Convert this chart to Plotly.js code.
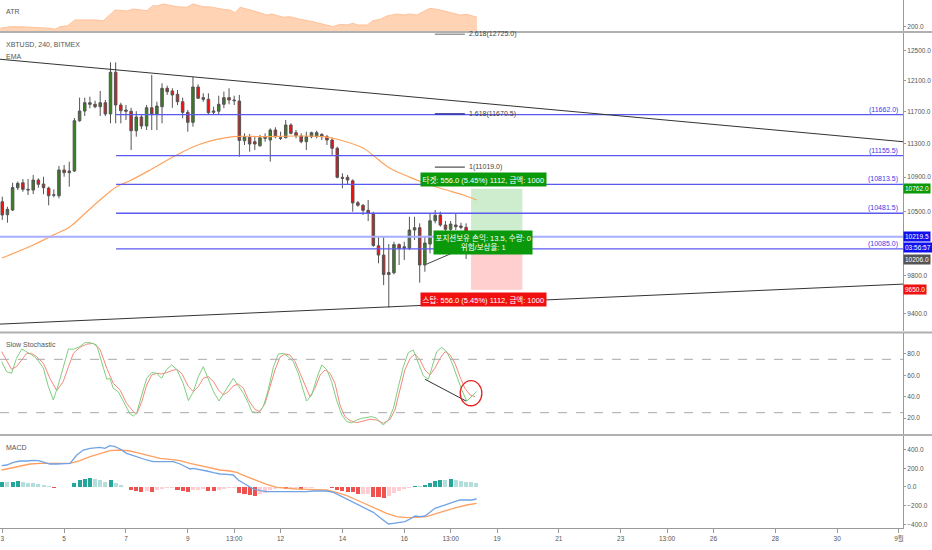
<!DOCTYPE html>
<html><head><meta charset="utf-8">
<script src="https://cdn.plot.ly/plotly-3.0.1.min.js"></script>
<style>html,body{margin:0;padding:0;background:#fff}#chart{width:932px;height:550px}</style>
</head><body><div id="chart"></div>
<script>
// ---------- DATA (XBTUSD 240, BITMEX, August) ----------
const candleStartDay = 3;      // Aug 3, first visible 4h bar
const barsPerDay = 6;
const candleOpen = [10613,10465,10518,10775,10833,10756,10748,10865,10818,10771,10688,10682,10984,10952,10972,11585,11707,11813,11793,11762,11813,11670,12209,11784,11720,11705,11460,11632,11519,11749,11666,11762,11999,11964,11922,11826,11691,11565,12016,11878,11857,11691,11705,11793,11878,11848,11835,11337,11379,11325,11276,11366,11346,11469,11374,11374,11532,11436,11395,11325,11387,11387,11416,11387,11346,11245,10897,10897,10857,10602,10572,10515,10479,10119,10018,9809,9828,10132,10090,10090,10293,10319,9911,10138,10397,10462,10349,10301,10349,10338,10323];
const candleHigh = [10671,10556,10833,10847,10877,10877,10925,10885,10904,10787,10756,11032,11044,11083,11619,11878,11878,11891,11839,11964,11848,12341,12341,11813,11784,11749,11705,11657,11784,12173,11826,12064,12033,11999,11977,11878,11720,12147,12051,11934,11934,11762,11903,11955,11999,11903,11913,11428,11420,11387,11408,11428,11490,11503,11448,11594,11553,11469,11428,11448,11448,11460,11428,11408,11374,11264,10945,10925,10873,10621,10587,10633,10499,10219,10219,10138,10163,10145,10163,10442,10442,10368,10219,10481,10518,10499,10394,10394,10473,10375,10368];
const candleLow = [10405,10375,10507,10748,10728,10690,10702,10775,10699,10572,10664,10653,10904,10787,10960,11573,11644,11742,11742,11644,11644,11553,11553,11553,11594,11224,11387,11482,11469,11469,11469,11553,11913,11749,11784,11615,11448,11510,11861,11826,11666,11666,11666,11742,11793,11784,11143,11285,11203,11224,11264,11325,11083,11367,11346,11367,11416,11367,11306,11224,11367,11367,11346,11285,11164,10885,10768,10807,10499,10556,10462,10394,10108,9929,9698,9465,9811,9911,9964,10072,10182,9723,9839,10036,10368,10330,10256,10274,10293,10301,9975];
const candleClose = [10462,10526,10777,10826,10756,10750,10865,10815,10775,10682,10692,10984,10952,10972,11585,11707,11813,11793,11762,11813,11670,12209,11784,11711,11705,11460,11632,11519,11749,11666,11771,11999,11955,11913,11826,11691,11565,12016,11870,11857,11686,11707,11793,11878,11848,11839,11340,11387,11297,11297,11374,11387,11469,11387,11367,11532,11428,11399,11325,11387,11436,11436,11387,11346,11245,10897,10885,10865,10599,10572,10515,10484,10122,10018,9809,9830,10132,10088,10108,10293,10319,9911,10149,10397,10458,10349,10301,10360,10330,10323,10274];

const emaDay = [2.99,4.00,4.54,5.19,5.62,6.16,6.70,7.13,7.78,8.64,9.39,10.47,11.44,12.52,13.38,13.92,14.68,15.11,15.54,16.19,16.83,17.37,17.91,18.34];
const emaValue = [9986,10127,10219,10330,10462,10633,10787,10857,10984,11164,11294,11387,11387,11395,11387,11346,11245,11124,11004,10897,10807,10748,10690,10633];

const atrDay = [2.93,3.25,3.57,3.99,4.54,4.70,4.87,5.12,5.35,6.06,6.26,6.65,7.03,7.23,7.68,7.87,8.00,8.20,8.42,8.65,8.97,9.17,9.49,9.72,10.14,10.36,10.53,10.69,11.11,11.56,11.72,12.08,12.30,12.63,13.05,13.50,13.70,13.92,14.15,14.34,14.50,14.80,14.99,15.22,15.44,15.77,15.96,16.19,16.41,16.61,16.83,17.16,17.48,17.80,18.03,18.22,18.35];
const atrValue = [186,200,200,195,186,177,200,209,259,259,250,347,338,356,341,385,382,400,389,376,371,400,376,374,353,347,323,371,341,303,312,283,288,265,244,209,200,221,215,230,215,215,253,265,294,312,303,312,303,332,362,347,323,303,309,297,283];

const stochKDay = [2.98,3.14,3.30,3.46,3.63,3.79,3.95,4.11,4.33,4.49,4.65,4.81,4.97,5.14,5.30,5.51,5.67,5.84,6.05,6.21,6.38,6.48,6.59,6.75,6.91,7.13,7.24,7.35,7.51,7.67,7.83,7.99,8.15,8.32,8.48,8.64,8.85,9.02,9.18,9.34,9.50,9.66,9.83,10.01,10.15,10.31,10.47,10.63,10.80,10.96,11.07,11.28,11.44,11.60,11.77,11.93,12.09,12.25,12.41,12.57,12.74,12.84,13.01,13.17,13.33,13.49,13.65,13.81,13.98,14.14,14.30,14.46,14.62,14.78,14.95,15.11,15.32,15.49,15.65,15.81,15.97,16.13,16.29,16.46,16.62,16.78,16.94,17.05,17.21,17.37,17.53,17.70,17.86,18.02,18.18,18.34];
const stochK = [72.8,63.4,61.9,75.9,84.7,82.2,79.1,75.9,66.6,49.4,36.9,50.9,68.1,84.7,84.4,86.9,90.6,90.6,88.4,72.8,56.3,57.2,47.8,44.7,35.3,23.8,21.9,25.0,41.6,57.2,62.5,61.9,57.2,65.6,69.7,65.6,52.5,36.3,44.7,58.8,68.1,56.3,44.7,35.9,43.1,50.0,57.2,50.9,43.1,33.8,25.9,25.0,30.6,46.3,68.1,80.0,80.6,77.5,72.8,61.9,44.7,35.9,41.6,57.2,69.7,65.6,54.1,36.9,22.8,16.6,15.6,18.1,19.7,20.6,21.3,19.7,13.4,18.1,29.1,49.4,68.1,81.3,83.8,71.3,59.4,56.3,71.3,82.2,86.3,82.2,72.8,58.8,46.3,35.9,40.6,44.7];
const stochDDay = [2.98,3.14,3.30,3.46,3.63,3.79,3.95,4.11,4.33,4.54,4.76,4.97,5.14,5.30,5.51,5.73,5.94,6.16,6.38,6.59,6.81,7.02,7.24,7.35,7.51,7.67,7.83,7.99,8.15,8.32,8.48,8.64,8.80,9.02,9.18,9.34,9.50,9.66,9.83,9.99,10.15,10.31,10.47,10.63,10.80,10.96,11.17,11.33,11.50,11.66,11.82,11.98,12.14,12.30,12.47,12.63,12.79,12.95,13.11,13.28,13.44,13.60,13.76,13.92,14.08,14.25,14.46,14.68,14.89,15.11,15.32,15.54,15.70,15.86,16.02,16.19,16.35,16.51,16.67,16.83,16.99,17.16,17.32,17.48,17.64,17.80,17.96,18.13,18.29];
const stochD = [82.2,74.4,65.6,68.1,74.4,80.6,80.6,77.5,71.3,57.2,45.6,54.1,68.1,80.6,86.3,89.1,90.0,84.4,66.6,52.5,46.3,33.8,25.9,23.8,35.3,50.9,60.3,61.9,61.3,62.5,64.4,65.6,61.9,49.4,44.7,49.4,57.2,58.8,54.1,46.3,41.6,44.7,50.0,51.9,47.8,36.9,28.1,25.9,33.8,49.4,65.0,76.9,80.0,79.1,72.8,61.9,50.9,40.0,47.8,60.3,65.0,61.9,52.5,32.2,21.3,17.5,15.6,17.5,18.8,18.1,15.0,18.8,27.5,46.3,65.0,75.9,80.0,74.4,65.0,60.3,66.6,75.9,82.2,79.1,71.3,58.8,47.8,41.6,40.0];
const stochBands = [75, 25];

const macdDay = [2.98,3.14,3.36,3.57,3.79,4.00,4.17,4.33,4.54,4.76,4.97,5.19,5.41,5.62,5.84,6.05,6.16,6.32,6.48,6.65,6.81,7.02,7.24,7.45,7.67,7.88,8.10,8.32,8.53,8.75,8.91,9.07,9.18,9.39,9.61,9.83,10.04,10.26,10.47,10.63,10.80,10.96,11.12,11.34,11.55,11.77,11.98,12.20,12.41,12.63,12.84,13.06,13.28,13.49,13.71,13.92,14.14,14.35,14.57,14.78,15.00,15.22,15.49,15.65,15.86,16.02,16.19,16.35,16.51,16.67,16.83,16.99,17.16,17.37,17.59,17.80,18.02,18.18,18.34];
const macdLine = [227.5,234.7,263.1,277.3,277.3,284.4,280.9,263.1,245.3,245.3,245.3,252.4,341.3,394.7,412.5,423.1,423.1,412.5,440.9,430.2,405.4,359.1,334.2,305.8,288.0,270.2,270.2,270.2,270.2,245.3,216.9,192.0,199.1,188.4,170.7,152.9,138.7,135.1,128.0,74.6,39.1,3.6,-21.4,-39.2,-49.8,-49.8,-49.8,-49.8,-49.8,-57.0,-49.8,-42.7,-42.7,-42.7,-57.0,-92.5,-128.0,-156.5,-199.2,-234.7,-270.3,-327.2,-394.8,-387.6,-380.5,-369.9,-341.4,-309.4,-316.5,-309.4,-270.3,-227.6,-209.8,-184.9,-156.5,-138.7,-138.7,-138.7,-128.0];
const signalDay = [2.98,3.25,3.57,3.90,4.22,4.54,4.87,5.19,5.51,5.84,6.16,6.48,6.81,7.13,7.45,7.78,8.10,8.42,8.75,9.07,9.39,9.72,10.04,10.36,10.58,10.90,11.23,11.55,11.88,12.20,12.52,12.84,13.17,13.49,13.81,14.14,14.46,14.78,15.11,15.43,15.76,16.08,16.40,16.73,17.05,17.37,17.70,18.02,18.34];
const signalLine = [181.3,199.1,227.5,245.3,252.4,256.0,252.4,252.4,280.9,323.6,359.1,387.6,394.7,384.0,359.1,334.2,305.8,295.1,280.9,252.4,227.5,206.2,181.3,170.7,156.5,110.2,67.5,28.4,-3.6,-14.3,-21.4,-24.9,-32.0,-32.0,-57.0,-92.5,-138.7,-184.9,-234.7,-281.0,-316.5,-327.2,-323.6,-316.5,-281.0,-245.4,-217.0,-192.1,-174.3];
const macdHist = [57,50,57,60,50,43,39,28,21,7,-14,-3,-1,2,46,71,85,92,85,75,57,71,39,18,-4,-32,-43,-57,-43,-50,-32,-21,-14,-11,-32,-43,-50,-36,-28,-25,-39,-43,-32,-21,-14,-11,-60,-78,-89,-92,-78,-60,-32,-21,-14,-21,-14,-7,-18,-7,-6,-5,-3,-5,-7,-32,-43,-50,-57,-78,-75,-71,-103,-110,-114,-92,-68,-43,-25,-7,14,7,21,46,68,78,77,82,71,64,53,50,43];

// drawings
const fibLevels = [11662.0, 11155.5, 10813.5, 10481.5, 10085.0];
const fibStartDay = 6.68;
const extLevels = [12725.0, 11670.5, 11019.0];
const extRatios = ['2.618', '1.618', '1'];
const extDays = [16.99, 17.96];
const upperTrendDay = [2.926, 32.13], upperTrendPrice = [12382, 11325];
const lowerTrendDay = [2.926, 32.13], lowerTrendPrice = [9297, 9708];
const shortTrendDay = [16.73, 17.53], shortTrendPrice = [9921, 10036];
const stochTrendDay = [16.67, 18.00], stochTrendValue = [56.3, 35.9];
const lastPrice = 10219.5, countdown = '03:56:57';
const entryPrice = 10206.0, targetPrice = 10762.0, stopPrice = 9650.0;
const positionDays = [18.16, 19.82];
const positionText = {
  target: '타겟: 556.0 (5.45%) 1112, 금액: 1000',
  mid: '포지션보유 손익: 13.5, 수량: 0<br>위험/보상율: 1',
  stop: '스탑: 556.0 (5.45%) 1112, 금액: 1000'
};
const priceTicks = [12500, 12100, 11700, 11300, 10900, 10500, 9800, 9400];
const stochTicks = [20, 40, 60, 80];
const macdTicks = [-400, -200, 0, 200, 400];
const atrTicks = [200];
const xTickDays = [3,5,7,9,10.5,12,14,16,17.5,19,21,23,24.5,26,28,30,32];
const xTickText = ['3','5','7','9','13:00','12','14','16','13:00','19','21','23','13:00','26','28','30','9월'];

// ---------- CHART ----------
const F = 'Liberation Sans, Noto Sans CJK KR, sans-serif';
const candleDay = candleOpen.map((_, i) => candleStartDay + i / barsPerDay);
const histDay = macdHist.map((_, i) => candleStartDay + i / barsPerDay);
const histColor = macdHist.map((v, i) => {
  const p = i > 0 ? macdHist[i - 1] : v;
  if (v >= 0) return v >= p ? '#26a69a' : '#b2dfdb';
  return v < p ? '#ef5350' : '#ffcdd2';
});
const X0 = 2.926, X1 = 32.13;

const traces = [];
traces.push({type:'scatter', mode:'lines', x:atrDay, y:atrValue, yaxis:'y4', fill:'tozeroy', fillcolor:'#ffd3b3', line:{color:'#ffc29a', width:1}});
traces.push({type:'scatter', mode:'lines', x:[positionDays[0],positionDays[1],positionDays[1],positionDays[0],positionDays[0]], y:[entryPrice,entryPrice,targetPrice,targetPrice,entryPrice], fill:'toself', fillcolor:'rgba(60,180,60,0.25)', line:{width:0}});
traces.push({type:'scatter', mode:'lines', x:[positionDays[0],positionDays[1],positionDays[1],positionDays[0],positionDays[0]], y:[entryPrice,entryPrice,stopPrice,stopPrice,entryPrice], fill:'toself', fillcolor:'rgba(255,80,80,0.28)', line:{width:0}});
traces.push({type:'scatter', mode:'lines', x:emaDay, y:emaValue, line:{color:'#ffa35c', width:1.2, shape:'spline'}});
traces.push({type:'candlestick', x:candleDay, open:candleOpen, high:candleHigh, low:candleLow, close:candleClose,
  increasing:{fillcolor:'#3a7d22', line:{color:'#555', width:1}},
  decreasing:{fillcolor:'#f01010', line:{color:'#555', width:1}}, whiskerwidth:0});
traces.push({type:'scatter', mode:'lines', x:[X0, X1], y:[lastPrice, lastPrice], line:{color:'#a9adff', width:2}});
fibLevels.forEach(p => traces.push({type:'scatter', mode:'lines', x:[fibStartDay, X1], y:[p, p], line:{color:'#5a5af2', width:1.3}}));
const extColors = ['#777', '#1c1c8c', '#555'];
extLevels.forEach((p, i) => traces.push({type:'scatter', mode:'lines', x:extDays, y:[p, p], line:{color:extColors[i], width:1.3}}));
traces.push({type:'scatter', mode:'lines', x:upperTrendDay, y:upperTrendPrice, line:{color:'#333', width:1}});
traces.push({type:'scatter', mode:'lines', x:lowerTrendDay, y:lowerTrendPrice, line:{color:'#333', width:1}});
traces.push({type:'scatter', mode:'lines', x:shortTrendDay, y:shortTrendPrice, line:{color:'#444', width:1}});
traces.push({type:'scatter', mode:'lines', x:stochDDay, y:stochD, yaxis:'y2', line:{color:'#f4877c', width:1}});
traces.push({type:'scatter', mode:'lines', x:stochKDay, y:stochK, yaxis:'y2', line:{color:'#7fce7f', width:1}});
traces.push({type:'scatter', mode:'lines', x:stochTrendDay, y:stochTrendValue, yaxis:'y2', line:{color:'#333', width:1}});
traces.push({type:'bar', x:histDay, y:macdHist, yaxis:'y3', width:0.13, marker:{color:histColor, line:{width:0}}});
traces.push({type:'scatter', mode:'lines', x:signalDay, y:signalLine, yaxis:'y3', line:{color:'#ffa060', width:1.3}});
traces.push({type:'scatter', mode:'lines', x:macdDay, y:macdLine, yaxis:'y3', line:{color:'#6fa3e6', width:1.3}});

const tickFont = {family:F, size:6.5, color:'#555'};
const yBase = {side:'right', showgrid:false, zeroline:false, showline:true, linecolor:'#999', linewidth:1,
  ticks:'outside', ticklen:2, tickcolor:'#999', tickfont:tickFont, tickformat:'.1f', fixedrange:true, anchor:'x'};

const annotations = [];
const lbl = (txt, ypx) => ({xref:'paper', yref:'paper', x:0.004, y:(528 - ypx) / 528, xanchor:'left', yanchor:'middle', text:txt, showarrow:false, font:{family:F, size:7, color:'#555'}});
annotations.push(lbl('ATR', 12), lbl('XBTUSD, 240, BITMEX', 44), lbl('EMA', 56), lbl('Slow Stochastic', 344), lbl('MACD', 447));
fibLevels.forEach(p => annotations.push({xref:'paper', x:0.997, xanchor:'right', yref:'y', y:Math.log10(p), yanchor:'bottom', text:'(' + p.toFixed(1) + ')', showarrow:false, font:{family:F, size:7, color:'#3a3ae8'}, yshift:-1}));
extLevels.forEach((p, i) => annotations.push({xref:'x', x:extDays[1] + 0.08, xanchor:'left', yref:'y', y:Math.log10(p), yanchor:'middle', text:extRatios[i] + '(' + p.toFixed(1) + ')', showarrow:false, font:{family:F, size:7, color:'#444'}}));
const tag = (p, text, bg, shift) => ({xref:'paper', x:1.0005, xanchor:'left', yref:'y', y:Math.log10(p), yanchor:'middle', text:text, showarrow:false, bgcolor:bg, borderpad:1, font:{family:F, size:6.5, color:'#fff'}, yshift:shift || 0});
annotations.push(tag(targetPrice, targetPrice.toFixed(1), '#0a990a'));
annotations.push(tag(lastPrice, lastPrice.toFixed(1), '#1010ee'));
annotations.push(tag(lastPrice, countdown, '#1010ee', -11));
annotations.push(tag(entryPrice, entryPrice.toFixed(1), '#555', -22));
annotations.push(tag(stopPrice, stopPrice.toFixed(1), '#f01010'));
const midDay = (positionDays[0] + positionDays[1]) / 2 - 0.44;
annotations.push({xref:'x', x:midDay, xanchor:'center', yref:'y', y:Math.log10(targetPrice), yanchor:'bottom', yshift:2, text:positionText.target, showarrow:false, bgcolor:'#0a990a', borderpad:1.5, font:{family:F, size:7.5, color:'#fff'}});
annotations.push({xref:'x', x:midDay, xanchor:'center', yref:'y', y:Math.log10(entryPrice), yanchor:'middle', yshift:-5, text:positionText.mid, showarrow:false, bgcolor:'#0a990a', borderpad:1.5, font:{family:F, size:7.5, color:'#fff'}});
annotations.push({xref:'x', x:midDay, xanchor:'center', yref:'y', y:Math.log10(stopPrice), yanchor:'top', yshift:-2, text:positionText.stop, showarrow:false, bgcolor:'#f01010', borderpad:1.5, font:{family:F, size:7.5, color:'#fff'}});

const shapes = [];
[32, 332.5, 435].forEach(py => shapes.push({type:'line', xref:'paper', yref:'paper', x0:0, x1:932 / 903, y0:(528 - py) / 528, y1:(528 - py) / 528, line:{color:'#b0b0b0', width:2}}));
stochBands.forEach(v => shapes.push({type:'line', xref:'paper', yref:'y2', x0:0, x1:1, y0:v, y1:v, line:{color:'#aaa', width:1, dash:'dash'}}));
shapes.push({type:'circle', xref:'x', yref:'y2', x0:17.81, x1:18.51, y0:31.5, y1:55, line:{color:'#e82020', width:1.3}});

const layout = {
  width:932, height:550, margin:{l:0, r:29, t:0, b:22}, paper_bgcolor:'#fff', plot_bgcolor:'#fff',
  showlegend:false, hovermode:false, bargap:0,
  xaxis:{range:[X0, X1], anchor:'y3', showgrid:false, zeroline:false, showline:true, linecolor:'#999', ticks:'outside', ticklen:4, tickcolor:'#999',
    tickvals:xTickDays, ticktext:xTickText, tickfont:tickFont, rangeslider:{visible:false}, fixedrange:true},
  yaxis:Object.assign({}, yBase, {type:'log', domain:[0.3722, 0.9366], range:[Math.log10(9223), Math.log10(12732)], tickvals:priceTicks}),
  yaxis2:Object.assign({}, yBase, {domain:[0.178, 0.3684], range:[5.0, 99.2], tickvals:stochTicks}),
  yaxis3:Object.assign({}, yBase, {domain:[0, 0.1733], range:[-437.3, 538.7], tickvals:macdTicks}),
  yaxis4:Object.assign({}, yBase, {domain:[0.9413, 1], range:[162, 435], tickvals:atrTicks}),
  annotations:annotations, shapes:shapes
};
Plotly.newPlot('chart', traces, layout, {staticPlot:true, displayModeBar:false});
</script></body></html>
